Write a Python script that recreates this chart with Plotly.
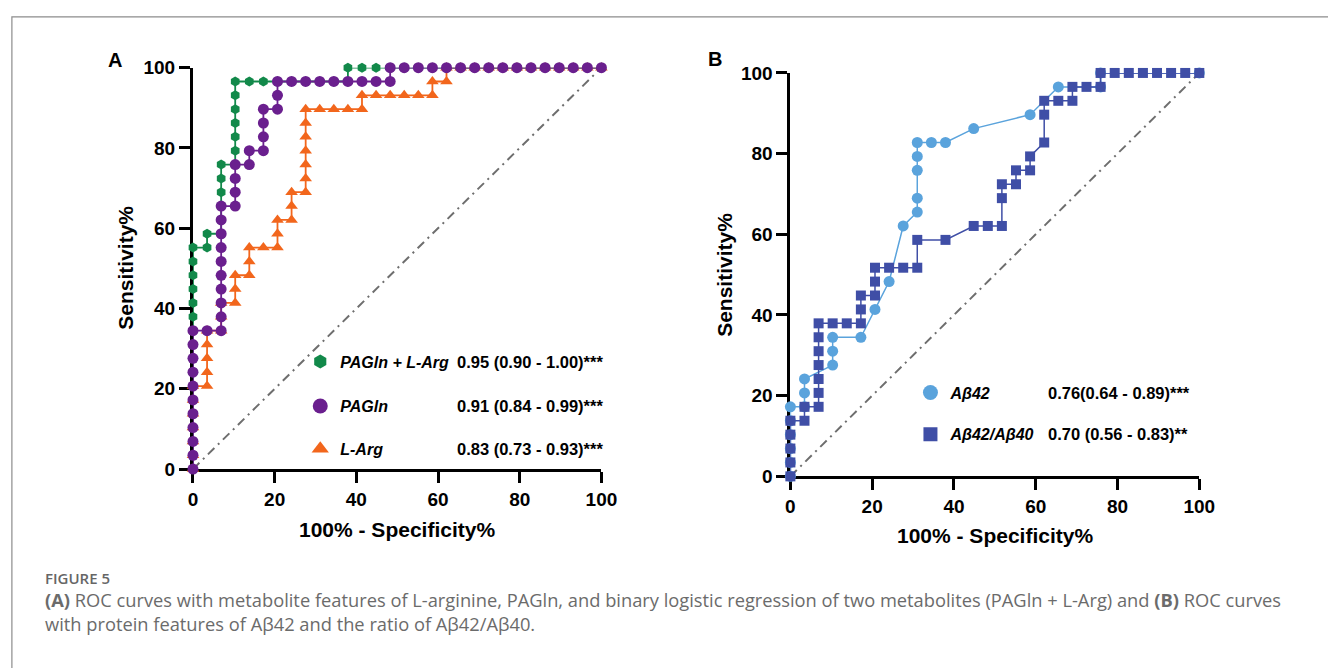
import plotly.graph_objects as go

W, H = 1328, 668

# ---------------- data (percent) ----------------
TICKS = [0, 20, 40, 60, 80, 100]
TICK_LABELS = ["0", "20", "40", "60", "80", "100"]
CHANCE_X = [0, 100]
CHANCE_Y = [0, 100]

# Panel A : PAGln + L-Arg
combo_fpr = [0, 0, 0, 0, 0, 0, 0, 0, 0, 0, 0, 0, 0, 0, 0, 0, 0,
             3.45, 3.45,
             6.90, 6.90, 6.90, 6.90, 6.90, 6.90,
             10.34, 10.34, 10.34, 10.34, 10.34, 10.34, 10.34,
             13.79, 17.24, 20.69, 24.14, 27.59, 31.03, 34.48, 37.93,
             37.93, 41.38, 44.83, 48.28, 51.72, 55.17, 58.62, 62.07, 65.52, 68.97,
             72.41, 75.86, 79.31, 82.76, 86.21, 89.66, 93.10, 96.55, 100]
combo_tpr = [0, 3.45, 6.90, 10.34, 13.79, 17.24, 20.69, 24.14, 27.59, 31.03, 34.48,
             37.93, 41.38, 44.83, 48.28, 51.72, 55.17,
             55.17, 58.62,
             58.62, 62.07, 65.52, 68.97, 72.41, 75.86,
             75.86, 79.31, 82.76, 86.21, 89.66, 93.10, 96.55,
             96.55, 96.55, 96.55, 96.55, 96.55, 96.55, 96.55, 96.55,
             100, 100, 100, 100, 100, 100, 100, 100, 100, 100,
             100, 100, 100, 100, 100, 100, 100, 100, 100]

# Panel A : PAGln
pagln_fpr = [0, 0, 0, 0, 0, 0, 0, 0, 0, 0, 0,
             3.45,
             6.90, 6.90, 6.90, 6.90, 6.90, 6.90, 6.90, 6.90, 6.90, 6.90,
             10.34, 10.34, 10.34, 10.34,
             13.79, 13.79,
             17.24, 17.24, 17.24, 17.24,
             20.69, 20.69, 20.69,
             24.14, 27.59, 31.03, 34.48, 37.93, 41.38, 44.83, 48.28,
             48.28, 51.72, 55.17, 58.62, 62.07, 65.52, 68.97, 72.41,
             75.86, 79.31, 82.76, 86.21, 89.66, 93.10, 96.55, 100]
pagln_tpr = [0, 3.45, 6.90, 10.34, 13.79, 17.24, 20.69, 24.14, 27.59, 31.03, 34.48,
             34.48,
             34.48, 37.93, 41.38, 44.83, 48.28, 51.72, 55.17, 58.62, 62.07, 65.52,
             65.52, 68.97, 72.41, 75.86,
             75.86, 79.31,
             79.31, 82.76, 86.21, 89.66,
             89.66, 93.10, 96.55,
             96.55, 96.55, 96.55, 96.55, 96.55, 96.55, 96.55, 96.55,
             100, 100, 100, 100, 100, 100, 100, 100,
             100, 100, 100, 100, 100, 100, 100, 100]

# Panel A : L-Arg
larg_fpr = [0, 0, 0, 0, 0, 0, 0,
            3.45, 3.45, 3.45, 3.45, 3.45,
            6.90, 6.90, 6.90,
            10.34, 10.34, 10.34,
            13.79, 13.79, 13.79,
            17.24,
            20.69, 20.69, 20.69,
            24.14, 24.14, 24.14,
            27.59, 27.59, 27.59, 27.59, 27.59, 27.59, 27.59,
            31.03, 34.48, 37.93,
            41.38, 41.38,
            44.83, 48.28, 51.72, 55.17, 58.62,
            58.62,
            62.07, 62.07,
            65.52, 68.97, 72.41, 75.86, 79.31, 82.76, 86.21, 89.66, 93.10, 96.55, 100]
larg_tpr = [0, 3.45, 6.90, 10.34, 13.79, 17.24, 20.69,
            20.69, 24.14, 27.59, 31.03, 34.48,
            34.48, 37.93, 41.38,
            41.38, 44.83, 48.28,
            48.28, 51.72, 55.17,
            55.17,
            55.17, 58.62, 62.07,
            62.07, 65.52, 68.97,
            68.97, 72.41, 75.86, 79.31, 82.76, 86.21, 89.66,
            89.66, 89.66, 89.66,
            89.66, 93.10,
            93.10, 93.10, 93.10, 93.10, 93.10,
            96.55,
            96.55, 100,
            100, 100, 100, 100, 100, 100, 100, 100, 100, 100, 100]

# Panel B : Abeta42
ab42_fpr = [0, 0, 0, 0, 0, 0,
            3.45, 3.45, 3.45,
            10.34, 10.34, 10.34,
            17.24, 20.69, 24.14, 27.59,
            31.03, 31.03, 31.03, 31.03, 31.03,
            34.48, 37.93, 44.83, 58.62, 65.52,
            75.86, 75.86, 100]
ab42_tpr = [0, 3.45, 6.90, 10.34, 13.79, 17.24,
            17.24, 20.69, 24.14,
            27.59, 31.03, 34.48,
            34.48, 41.38, 48.28, 62.07,
            65.52, 68.97, 75.86, 79.31, 82.76,
            82.76, 82.76, 86.21, 89.66, 96.55,
            96.55, 100, 100]

# Panel B : Abeta42/Abeta40
ratio_fpr = [0, 0, 0, 0, 0,
             3.45, 3.45,
             6.90, 6.90, 6.90, 6.90, 6.90, 6.90, 6.90,
             10.34, 13.79, 17.24,
             17.24, 17.24,
             20.69, 20.69, 20.69,
             24.14, 27.59, 31.03,
             31.03, 37.93, 44.83,
             48.28, 51.72,
             51.72, 51.72,
             55.17, 55.17,
             58.62, 58.62,
             62.07,
             62.07, 62.07,
             65.52, 68.97,
             68.97,
             72.41, 75.86,
             75.86,
             79.31, 82.76, 86.21, 89.66, 93.10, 96.55, 100]
ratio_tpr = [0, 3.45, 6.90, 10.34, 13.79,
             13.79, 17.24,
             17.24, 20.69, 24.14, 27.59, 31.03, 34.48, 37.93,
             37.93, 37.93, 37.93,
             41.38, 44.83,
             44.83, 48.28, 51.72,
             51.72, 51.72, 51.72,
             58.62, 58.62, 62.07,
             62.07, 62.07,
             68.97, 72.41,
             72.41, 75.86,
             75.86, 79.31,
             82.76,
             89.66, 93.10,
             93.10, 93.10,
             96.55,
             96.55, 96.55,
             100,
             100, 100, 100, 100, 100, 100, 100]

names_A = ["PAGln + L-Arg", "PAGln", "L-Arg"]
auc_A = ["0.95 (0.90 - 1.00)***", "0.91 (0.84 - 0.99)***", "0.83 (0.73 - 0.93)***"]
names_B = ["Aβ42", "Aβ42/Aβ40"]
auc_B = ["0.76(0.64 - 0.89)***", "0.70 (0.56 - 0.83)**"]

# ---------------- styles ----------------
GREEN = "#12894a"
PURPLE = "#6a1f8e"
ORANGE = "#f2661c"
LBLUE = "#5aa3dc"
DBLUE = "#3f4ea6"
FONT = "Arial, Liberation Sans, sans-serif"


def px_x(p):
    return p / W


def px_y(p):
    return 1 - p / H


fig = go.Figure()

# chance lines
for xa, ya in [("x", "y"), ("x2", "y2")]:
    fig.add_trace(go.Scatter(x=CHANCE_X, y=CHANCE_Y, mode="lines", xaxis=xa, yaxis=ya,
                             line=dict(color="#6e6e6e", width=2, dash="9px,5px,2px,5px"),
                             showlegend=False, hoverinfo="skip"))


def curve(x, y, color, symbol, size, ax, lw=1.8):
    xa, ya = ("x", "y") if ax == 1 else ("x2", "y2")
    fig.add_trace(go.Scatter(x=x, y=y, mode="lines+markers", xaxis=xa, yaxis=ya,
                             line=dict(color=color, width=lw),
                             marker=dict(color=color, symbol=symbol, size=size,
                                         line=dict(width=0)),
                             cliponaxis=False, showlegend=False))


curve(larg_fpr, larg_tpr, ORANGE, "triangle-up", 11, 1)
curve(combo_fpr, combo_tpr, GREEN, "hexagon", 10, 1)
curve(pagln_fpr, pagln_tpr, PURPLE, "circle", 11, 1)
curve(ab42_fpr, ab42_tpr, LBLUE, "circle", 11, 2, lw=1.5)
curve(ratio_fpr, ratio_tpr, DBLUE, "square", 10, 2, lw=1.5)

# legend rows (page pixel positions of each legend row)
rows_A = [363, 409, 453]
rows_B = [395, 438]
LEG_X_A, LEG_X_B = 300, 920
AUC_X_A, AUC_X_B = 458, 1059

legend_layouts = {}
k = 1
for nm, col, sym, sz, ry in zip(names_A, [GREEN, PURPLE, ORANGE],
                                ["hexagon", "circle", "triangle-up"], [14, 15, 15], rows_A):
    key = "legend" if k == 1 else "legend%d" % k
    fig.add_trace(go.Scatter(x=[None], y=[None], mode="markers", xaxis="x", yaxis="y",
                             name="<b><i>" + nm + "</i></b>", legend=key,
                             marker=dict(color=col, symbol=sym, size=sz)))
    legend_layouts[key] = (LEG_X_A, ry)
    k += 1
for nm, col, sym, sz, ry in zip(names_B, [LBLUE, DBLUE], ["circle", "square"], [15, 14], rows_B):
    key = "legend%d" % k
    fig.add_trace(go.Scatter(x=[None], y=[None], mode="markers", xaxis="x2", yaxis="y2",
                             name="<b><i>" + nm + "</i></b>", legend=key,
                             marker=dict(color=col, symbol=sym, size=sz)))
    legend_layouts[key] = (LEG_X_B, ry)
    k += 1

axis_common = dict(range=[0, 100], tickvals=TICKS, ticktext=TICK_LABELS,
                   showline=True, linewidth=3, linecolor="black",
                   ticks="outside", ticklen=11, tickwidth=3, tickcolor="black",
                   showgrid=False, zeroline=False, layer="below traces",
                   tickfont=dict(family=FONT, size=19, color="black", weight="bold"),
                   fixedrange=True)


def ann(text, xp, yp, size, xanchor="center", family=FONT, color="black", angle=0,
        weight=None, align="center"):
    f = dict(family=family, size=size, color=color)
    if weight is not None:
        f["weight"] = weight
    return dict(text=text, x=px_x(xp), y=px_y(yp), xref="paper", yref="paper",
                xanchor=xanchor, yanchor="middle", showarrow=False, textangle=angle,
                font=f, align=align, borderpad=0)


annotations = []
# panel letters
annotations.append(ann("<b>A</b>", 112, 52, 20))
annotations.append(ann("<b>B</b>", 721, 51, 20))
# axis titles
for xc, yc in [(398, 536), (1006, 543)]:
    annotations.append(ann("<b>100% - Specificity%</b>", xc, yc, 21))
for xc, yc in [(123, 266), (731, 273)]:
    annotations.append(ann("<b>Sensitivity%</b>", xc, yc, 21, angle=-90))
# AUC texts
for txt, yc in zip(auc_A, rows_A):
    annotations.append(ann("<b>" + txt + "</b>", AUC_X_A, yc, 16.5, xanchor="left"))
for txt, yc in zip(auc_B, rows_B):
    annotations.append(ann("<b>" + txt + "</b>", AUC_X_B, yc, 16.5, xanchor="left"))
# caption
CAP_FONT = "Open Sans, Lato, sans-serif"
annotations.append(ann("FIGURE 5", 40, 586, 15, xanchor="left", family=CAP_FONT,
                       color="#666666", weight=600))
annotations.append(ann(
    "<b>(A)</b> ROC curves with metabolite features of L-arginine, PAGln, and binary logistic "
    "regression of two metabolites (PAGln + L-Arg) and <b>(B)</b> ROC curves<br>"
    "with protein features of Aβ42 and the ratio of Aβ42/Aβ40.",
    40, 621.5, 18.3, xanchor="left", family=CAP_FONT, color="#6b6b6b", align="left"))

legends = {}
for key, (lx, ly) in legend_layouts.items():
    legends[key] = dict(x=px_x(lx), y=px_y(ly), xanchor="left", yanchor="middle",
                        bgcolor="rgba(0,0,0,0)", borderwidth=0,
                        font=dict(family=FONT, size=16, color="black"),
                        itemclick=False, itemdoubleclick=False)

fig.update_layout(
    width=W, height=H, margin=dict(l=0, r=0, t=0, b=0),
    paper_bgcolor="white", plot_bgcolor="white",
    xaxis=dict(domain=[px_x(191), px_x(606)], anchor="y", **axis_common),
    yaxis=dict(domain=[px_y(474), px_y(59.5)], anchor="x", **axis_common),
    xaxis2=dict(domain=[px_x(798), px_x(1213.5)], anchor="y2", **axis_common),
    yaxis2=dict(domain=[px_y(481.5), px_y(65)], anchor="x2", **axis_common),
    annotations=annotations,
    shapes=[dict(type="rect", xref="paper", yref="paper",
                 x0=px_x(7), x1=px_x(1345), y0=px_y(690), y1=px_y(7),
                 line=dict(color="#8c8c8c", width=1.2), layer="below")],
    showlegend=True,
    hovermode=False,
    **legends,
)

fig.write_html("out.html",
               config={"displayModeBar": False, "staticPlot": True},
               post_script="document.body.style.margin='0px';"
                           "document.body.style.overflow='hidden';")
